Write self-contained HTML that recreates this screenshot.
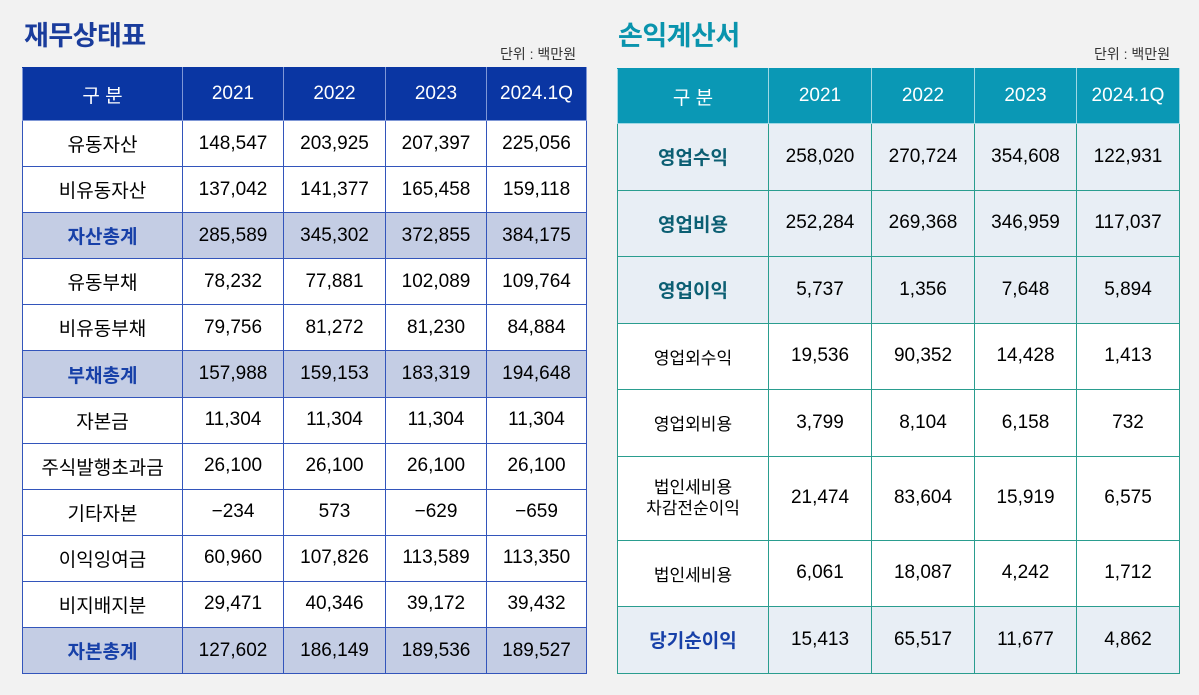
<!DOCTYPE html>
<html><head><meta charset="utf-8">
<style>
*{margin:0;padding:0;box-sizing:border-box}
body{width:1199px;height:695px;background:#f2f2f2;font-family:"Liberation Sans","Noto Sans CJK KR",sans-serif;position:relative;overflow:hidden}
.title{position:absolute;font-size:27px;font-weight:bold;letter-spacing:-0.5px}
.unit{position:absolute;font-size:14px;color:#333}
table{position:absolute;border-collapse:collapse;table-layout:fixed}
td,th{text-align:center;font-size:19px;color:#000;font-weight:normal}
#bs{left:22px;top:67px;width:564px}
#bs th{background:#0a36a3;color:#fff;height:53px;border:1px solid #7f97d6;border-top:1px solid #0a36a3}
#bs td{background:#fff;height:46.1px;border:1px solid #3355bb}
#bs tr.hl td{background:#c4cde4}
#bs tr.hl td:first-child{color:#1740a8;font-weight:bold}
#is{left:617px;top:68px;width:562px}
#is th{background:#0a98b5;color:#fff;height:55px;border:1px solid #9fd8e4;border-top:1px solid #0a98b5}
#is td{background:#fff;height:66.5px;border:1px solid #2a9d8f}
#is tr.hl td{background:#e8eef5}
#is tr.hl td:first-child{color:#0c5f73;font-weight:bold}
#is tr.tot td:first-child{color:#1740a8;font-weight:bold}
#is tr.tot td{background:#e8eef5}
</style></head><body>
<div class="title" style="left:24px;top:14px;color:#1a3c9c">재무상태표</div>
<div class="unit" style="left:500px;top:44px">단위 : 백만원</div>
<table id="bs">
<colgroup><col style="width:160px"><col style="width:101px"><col style="width:102px"><col style="width:101px"><col style="width:100px"></colgroup>
<tr><th>구 분</th><th>2021</th><th>2022</th><th>2023</th><th>2024.1Q</th></tr>
<tr><td>유동자산</td><td>148,547</td><td>203,925</td><td>207,397</td><td>225,056</td></tr>
<tr><td>비유동자산</td><td>137,042</td><td>141,377</td><td>165,458</td><td>159,118</td></tr>
<tr class="hl"><td>자산총계</td><td>285,589</td><td>345,302</td><td>372,855</td><td>384,175</td></tr>
<tr><td>유동부채</td><td>78,232</td><td>77,881</td><td>102,089</td><td>109,764</td></tr>
<tr><td>비유동부채</td><td>79,756</td><td>81,272</td><td>81,230</td><td>84,884</td></tr>
<tr class="hl"><td>부채총계</td><td>157,988</td><td>159,153</td><td>183,319</td><td>194,648</td></tr>
<tr><td>자본금</td><td>11,304</td><td>11,304</td><td>11,304</td><td>11,304</td></tr>
<tr><td>주식발행초과금</td><td>26,100</td><td>26,100</td><td>26,100</td><td>26,100</td></tr>
<tr><td>기타자본</td><td>−234</td><td>573</td><td>−629</td><td>−659</td></tr>
<tr><td>이익잉여금</td><td>60,960</td><td>107,826</td><td>113,589</td><td>113,350</td></tr>
<tr><td>비지배지분</td><td>29,471</td><td>40,346</td><td>39,172</td><td>39,432</td></tr>
<tr class="hl"><td>자본총계</td><td>127,602</td><td>186,149</td><td>189,536</td><td>189,527</td></tr>
</table>
<div class="title" style="left:618px;top:14px;color:#0a94ad">손익계산서</div>
<div class="unit" style="left:1094px;top:44px">단위 : 백만원</div>
<table id="is">
<colgroup><col style="width:151px"><col style="width:103px"><col style="width:103px"><col style="width:102px"><col style="width:103px"></colgroup>
<tr><th>구 분</th><th>2021</th><th>2022</th><th>2023</th><th>2024.1Q</th></tr>
<tr class="hl"><td>영업수익</td><td>258,020</td><td>270,724</td><td>354,608</td><td>122,931</td></tr>
<tr class="hl"><td>영업비용</td><td>252,284</td><td>269,368</td><td>346,959</td><td>117,037</td></tr>
<tr class="hl"><td>영업이익</td><td>5,737</td><td>1,356</td><td>7,648</td><td>5,894</td></tr>
<tr><td style="font-size:17px">영업외수익</td><td>19,536</td><td>90,352</td><td>14,428</td><td>1,413</td></tr>
<tr><td style="font-size:17px">영업외비용</td><td>3,799</td><td>8,104</td><td>6,158</td><td>732</td></tr>
<tr><td style="height:84px;font-size:17px;line-height:21px">법인세비용<br>차감전순이익</td><td>21,474</td><td>83,604</td><td>15,919</td><td>6,575</td></tr>
<tr><td style="font-size:17px">법인세비용</td><td>6,061</td><td>18,087</td><td>4,242</td><td>1,712</td></tr>
<tr class="tot"><td>당기순이익</td><td>15,413</td><td>65,517</td><td>11,677</td><td>4,862</td></tr>
</table>
</body></html>
